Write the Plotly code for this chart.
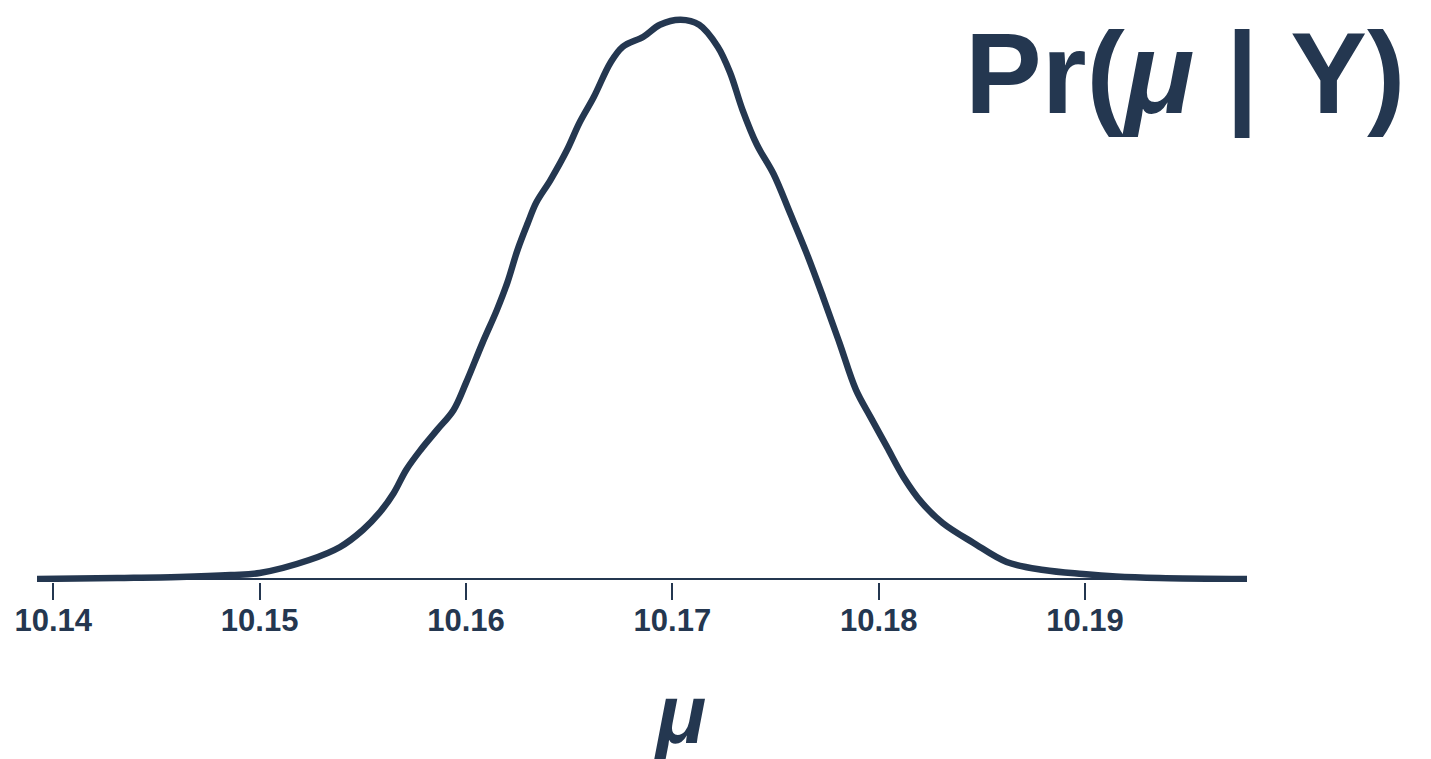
import plotly.graph_objects as go

# Posterior density of mu
mu_values = [10.1392, 10.1431, 10.1461, 10.1486, 10.1500, 10.1524, 10.1539, 10.1550,
             10.1558, 10.1565, 10.1571, 10.1578, 10.1586, 10.1594, 10.1600, 10.1608,
             10.1615, 10.1620, 10.1625, 10.1630, 10.1634, 10.1641, 10.1649, 10.1655,
             10.1662, 10.1670, 10.1676, 10.1686, 10.1694, 10.1704, 10.1713, 10.1722,
             10.1728, 10.1734, 10.1741, 10.1749, 10.1757, 10.1765, 10.1773, 10.1781,
             10.1789, 10.1796, 10.1804, 10.1812, 10.1821, 10.1831, 10.1846, 10.1862,
             10.1880, 10.1899, 10.1915, 10.1936, 10.1979]
density = [0.0, 0.12, 0.24, 0.47, 0.71, 2.24, 3.78, 5.78,
           7.79, 10.15, 12.86, 15.22, 17.58, 19.94, 23.13, 27.85,
           31.74, 34.93, 38.82, 42.01, 44.37, 47.08, 50.62, 53.81,
           56.88, 60.89, 62.78, 63.96, 65.37, 65.96, 65.37, 62.78,
           59.71, 55.34, 51.21, 47.79, 43.19, 38.47, 33.28, 27.85,
           22.30, 19.12, 15.58, 12.04, 8.97, 6.61, 4.25, 2.01,
           1.06, 0.59, 0.30, 0.12, 0.0]
tick_values = [10.14, 10.15, 10.16, 10.17, 10.18, 10.19]
tick_labels = ["10.14", "10.15", "10.16", "10.17", "10.18", "10.19"]
title_text = "<b>Pr(<i>μ</i> | Y)</b>"
xlabel_text = "<b><i>μ</i></b>"

COLOR = "#243750"
FONT = "Liberation Sans, Arial, sans-serif"

fig = go.Figure()
fig.add_trace(go.Scatter(
    x=mu_values, y=density, mode="lines",
    line=dict(color=COLOR, width=6.5, shape="spline", smoothing=1.0),
    hoverinfo="skip", showlegend=False,
))

fig.update_layout(
    width=1431, height=759,
    margin=dict(l=29, r=192, t=8, b=185, pad=0),
    paper_bgcolor="white", plot_bgcolor="white",
    font=dict(family=FONT, color=COLOR),
    xaxis=dict(
        range=[10.13921, 10.19785],
        tickmode="array", tickvals=tick_values, ticktext=tick_labels,
        ticks="outside", ticklen=17, tickwidth=2, tickcolor=COLOR,
        tickfont=dict(family=FONT, size=31, color=COLOR, weight="bold"),
        ticklabelstandoff=-6,
        showgrid=False, zeroline=False, showline=False,
    ),
    yaxis=dict(
        range=[-0.354, 66.40],
        showticklabels=False, ticks="", showgrid=False,
        zeroline=True, zerolinecolor=COLOR, zerolinewidth=2,
        showline=False,
    ),
    annotations=[
        dict(text=title_text, xref="paper", yref="paper",
             x=1.1322, y=0.8984, xanchor="right", yanchor="middle",
             showarrow=False, font=dict(family=FONT, size=115, color=COLOR)),
        dict(text=xlabel_text, xref="paper", yref="paper",
             x=0.5314, y=-0.2336, xanchor="center", yanchor="middle",
             showarrow=False, font=dict(family=FONT, size=83, color=COLOR)),
    ],
)

fig.write_html("out.html")
